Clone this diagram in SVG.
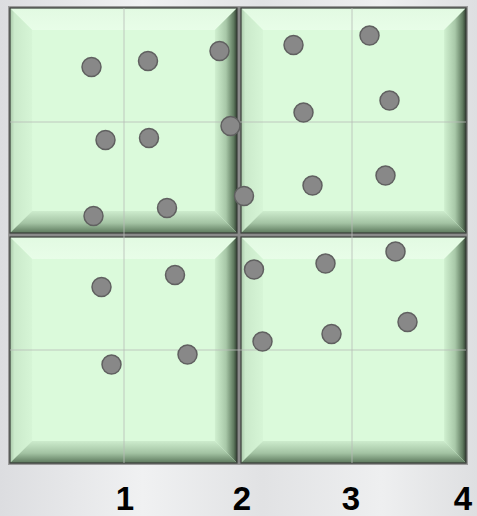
<svg xmlns="http://www.w3.org/2000/svg" xmlns:xlink="http://www.w3.org/1999/xlink" width="477" height="516" viewBox="0 0 477 516">
<style>
.grid{stroke:#b8bcb8;stroke-width:1;opacity:0.8}
.dot{fill:#888888;stroke:#606060;stroke-width:1.5}
.lbl{font-family:"Liberation Sans",Arial,sans-serif;font-weight:bold;font-size:33px;fill:#000;text-anchor:middle}
</style>
<defs>
<linearGradient id="bg" x1="0" y1="0" x2="1" y2="0">
<stop offset="0" stop-color="#dcdde0"/>
<stop offset="0.3" stop-color="#f0f1f2"/>
<stop offset="0.55" stop-color="#e1e2e4"/>
<stop offset="0.8" stop-color="#eeeff0"/>
<stop offset="1" stop-color="#dedfe1"/>
</linearGradient>
<linearGradient id="gTop" x1="0" y1="0" x2="0" y2="1">
<stop offset="0" stop-color="#e2fae2"/>
<stop offset="1" stop-color="#e8fde8"/>
</linearGradient>
<linearGradient id="gLeft" x1="0" y1="0" x2="1" y2="0">
<stop offset="0" stop-color="#a8c8a8"/>
<stop offset="0.2" stop-color="#cbeacb"/>
<stop offset="1" stop-color="#d6f5d6"/>
</linearGradient>
<linearGradient id="gRight" x1="0" y1="0" x2="1" y2="0">
<stop offset="0" stop-color="#d0f0d0"/>
<stop offset="0.5" stop-color="#a8c8a8"/>
<stop offset="0.85" stop-color="#5f7a5f"/>
<stop offset="1" stop-color="#2f3d2f"/>
</linearGradient>
<linearGradient id="gBot" x1="0" y1="0" x2="0" y2="1">
<stop offset="0" stop-color="#cdeccd"/>
<stop offset="0.55" stop-color="#a3c3a3"/>
<stop offset="1" stop-color="#5c785c"/>
</linearGradient>
<symbol id="blk" viewBox="0 0 226 226" preserveAspectRatio="none">
<rect x="0" y="0" width="226" height="226" fill="#dbfadb"/>
<polygon points="0,0 226,0 204,22 22,22" fill="url(#gTop)"/>
<polygon points="0,0 22,22 22,204 0,226" fill="url(#gLeft)"/>
<polygon points="226,0 204,22 204,204 226,226" fill="url(#gRight)"/>
<polygon points="0,226 22,204 204,204 226,226" fill="url(#gBot)"/>
</symbol>
</defs>
<rect x="0" y="0" width="477" height="516" fill="url(#bg)"/>
<g id="frame">
<rect x="8.5" y="6.5" width="459" height="458" fill="#8a8a8a" stroke="#9a9a9a" stroke-width="1"/>
</g>
<g id="block-tl"><use xlink:href="#blk" x="10" y="8" width="227" height="225"/><rect x="10" y="8" width="227" height="225" fill="none" stroke="#3a3f3a" stroke-width="1.2"/></g>
<g id="block-tr"><use xlink:href="#blk" x="241" y="8" width="225" height="225"/><rect x="241" y="8" width="225" height="225" fill="none" stroke="#3a3f3a" stroke-width="1.2"/></g>
<g id="block-bl"><use xlink:href="#blk" x="10" y="237" width="227" height="226"/><rect x="10" y="237" width="227" height="226" fill="none" stroke="#3a3f3a" stroke-width="1.2"/></g>
<g id="block-br"><use xlink:href="#blk" x="241" y="237" width="225" height="226"/><rect x="241" y="237" width="225" height="226" fill="none" stroke="#3a3f3a" stroke-width="1.2"/></g>
<g id="connectors">
<line class="grid" x1="124" y1="8" x2="124" y2="463"/>
<line class="grid" x1="352" y1="8" x2="352" y2="463"/>
<line class="grid" x1="10" y1="122" x2="466" y2="122"/>
<line class="grid" x1="10" y1="350" x2="466" y2="350"/>
</g>
<g id="dots">
<circle class="dot" cx="91.5" cy="67" r="9.5"/>
<circle class="dot" cx="148" cy="61" r="9.5"/>
<circle class="dot" cx="219.5" cy="51" r="9.5"/>
<circle class="dot" cx="230.5" cy="126" r="9.5"/>
<circle class="dot" cx="105.5" cy="140" r="9.5"/>
<circle class="dot" cx="149" cy="138" r="9.5"/>
<circle class="dot" cx="93.5" cy="216" r="9.5"/>
<circle class="dot" cx="167" cy="208" r="9.5"/>
<circle class="dot" cx="244" cy="196" r="9.5"/>
<circle class="dot" cx="293.5" cy="45" r="9.5"/>
<circle class="dot" cx="369.5" cy="35.5" r="9.5"/>
<circle class="dot" cx="389.5" cy="100.5" r="9.5"/>
<circle class="dot" cx="303.5" cy="112.5" r="9.5"/>
<circle class="dot" cx="312.5" cy="185.5" r="9.5"/>
<circle class="dot" cx="385.5" cy="175.5" r="9.5"/>
<circle class="dot" cx="101.5" cy="287" r="9.5"/>
<circle class="dot" cx="175" cy="275" r="9.5"/>
<circle class="dot" cx="111.5" cy="364.5" r="9.5"/>
<circle class="dot" cx="187.5" cy="354.5" r="9.5"/>
<circle class="dot" cx="254" cy="269.5" r="9.5"/>
<circle class="dot" cx="325.5" cy="263.5" r="9.5"/>
<circle class="dot" cx="395.5" cy="251.5" r="9.5"/>
<circle class="dot" cx="407.5" cy="322" r="9.5"/>
<circle class="dot" cx="262.5" cy="341.5" r="9.5"/>
<circle class="dot" cx="331.5" cy="334" r="9.5"/>
</g>
<g id="labels">
<text class="lbl" x="125" y="510">1</text>
<text class="lbl" x="242" y="510">2</text>
<text class="lbl" x="351" y="510">3</text>
<text class="lbl" x="463" y="510">4</text>
</g>
</svg>
